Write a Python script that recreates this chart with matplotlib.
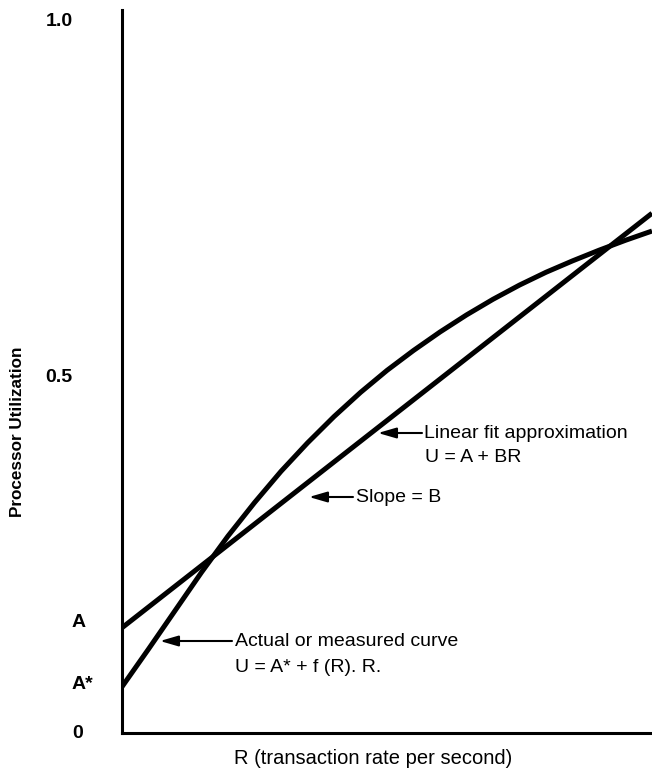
import matplotlib
matplotlib.use("Agg")
import matplotlib.pyplot as plt
from matplotlib.transforms import blended_transform_factory

plt.rcParams['font.family'] = ['Liberation Sans', 'DejaVu Sans']

# ---- data ----
R_curve = [0.00, 0.05, 0.10, 0.15, 0.20, 0.25, 0.30, 0.35, 0.40, 0.45, 0.50,
           0.55, 0.60, 0.65, 0.70, 0.75, 0.80, 0.85, 0.90, 0.95, 1.00]
U_curve = [0.065, 0.118, 0.172, 0.226, 0.277, 0.324, 0.368, 0.408, 0.445, 0.479, 0.510,
           0.538, 0.564, 0.588, 0.610, 0.630, 0.648, 0.664, 0.679, 0.693, 0.706]
R_fit = [0.0, 1.0]
U_fit = [0.148, 0.731]

tick_values = [1.0, 0.5, 0.155, 0.068, 0.0]
tick_labels = ['1.0', '0.5', 'A', 'A*', '0']

W, H = 652, 770
fig = plt.figure(figsize=(W / 100, H / 100), dpi=100)
left, right, bottom, top = 122, 652, 733, 10
ax = fig.add_axes([left / W, (H - bottom) / H, (right - left) / W, (bottom - top) / H])
ax.set_xlim(0, 1)
ax.set_ylim(0, (bottom - top) / 711)

ax.plot(R_curve, U_curve, color='black', lw=3.6, solid_capstyle='butt',
        solid_joinstyle='round')
ax.plot(R_fit, U_fit, color='black', lw=3.6, solid_capstyle='butt')

for s in ['top', 'right']:
    ax.spines[s].set_visible(False)
for s in ['left', 'bottom']:
    ax.spines[s].set_linewidth(2.2)
ax.set_xticks([])
ax.set_yticks([])

# y tick labels
trans = blended_transform_factory(fig.transFigure, ax.transData)
label_x = {'1.0': 46, '0.5': 45, 'A': 72, 'A*': 72, '0': 72}
for v, lab in zip(tick_values, tick_labels):
    ax.text(label_x[lab] / W, v, lab, transform=trans, ha='left', va='center',
            fontsize=14, fontweight='bold')

ax.text(18 / W, (bottom - 432) / 711 / ax.get_ylim()[1], 'Processor Utilization',
        transform=blended_transform_factory(fig.transFigure, ax.transAxes),
        rotation=90, ha='center', va='center', fontsize=12.3, fontweight='bold')

ax.text((373 - left) / (right - left), (H - 758) / H, 'R (transaction rate per second)',
        transform=blended_transform_factory(ax.transAxes, fig.transFigure),
        ha='center', va='center', fontsize=14.5)

arrow = dict(arrowstyle='-|>,head_length=1.1,head_width=0.32', color='black',
             lw=1.5, shrinkA=0, shrinkB=0, mutation_scale=10)

def px(x, y):
    return (x - left) / (right - left), (bottom - y) / 711

# Linear fit annotation
ax.annotate('', xy=px(378, 433), xytext=px(422, 433), arrowprops=arrow)
ax.text(*px(424, 433), 'Linear fit approximation', ha='left', va='center', fontsize=14)
ax.text(*px(425, 458), 'U = A + BR', ha='left', va='center', fontsize=14)

# Slope annotation
ax.annotate('', xy=px(309, 497), xytext=px(353, 497), arrowprops=arrow)
ax.text(*px(356, 497), 'Slope = B', ha='left', va='center', fontsize=14)

# Actual curve annotation
ax.annotate('', xy=px(160, 641), xytext=px(232, 641), arrowprops=arrow)
ax.text(*px(235, 642), 'Actual or measured curve', ha='left', va='center', fontsize=14)
ax.text(*px(235, 667), 'U = A* + f (R). R.', ha='left', va='center', fontsize=14)

fig.savefig('out.png', dpi=100)
